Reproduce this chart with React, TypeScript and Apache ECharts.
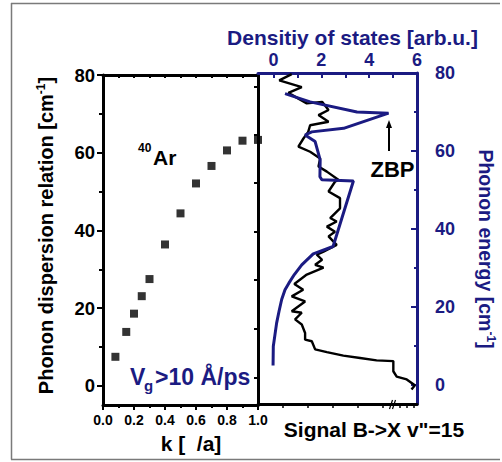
import React, { useEffect, useRef } from 'react';
import * as echarts from 'echarts';

const FONT = '"Liberation Sans", Arial, Helvetica, sans-serif';
const NAVY = '#1b1b82';
const BLACK = '#000000';

// Left panel: phonon dispersion relation of 40Ar
const dispersionK = [0.08, 0.15, 0.2, 0.25, 0.3, 0.4, 0.5, 0.6, 0.7, 0.8, 0.9, 1.0];
const dispersionE = [7.5, 13.9, 18.6, 23.1, 27.5, 36.4, 44.4, 52.1, 56.6, 60.6, 63.1, 63.3];

// Right panel: density of states (blue)
const dosValues = [0.48, 1.53, 3.49, 4.81, 2.93, 1.6, 1.32, 1.74, 1.95, 1.94, 2.02, 3.34, 2.49, 1.66, 1.18, 0.87, 0.64, 0.48, 0.34, 0.23, 0.13, 0.06, -0.01, -0.02];
const dosEnergy = [74.7, 72.6, 70.0, 69.7, 65.8, 64.9, 64.1, 62.4, 57.7, 53.4, 52.6, 52.3, 35.5, 33.6, 30.8, 28.3, 26.1, 24.4, 21.9, 18.9, 15.9, 12.9, 9.9, 5.0];

// Right panel: signal B->X v"=15 (black)
const signalValues = [0.76, 0.24, 1.18, 0.62, 1.39, 2.03, 2.3, 1.88, 2.3, 1.53, 1.45, 1.25, 1.04, 1.53, 1.95, 1.88, 2.23, 2.71, 2.57, 2.3, 2.78, 2.78, 2.37, 2.64, 2.23, 2.57, 2.3, 2.64, 2.09, 1.81, 2.03, 1.74, 2.09, 1.39, 0.87, 1.24, 0.76, 1.32, 0.76, 1.18, 0.9, 1.18, 1.32, 1.32, 1.6, 1.74, 2.23, 2.92, 3.62, 4.31, 5.01, 5.01, 5.15, 5.57, 5.91, 5.77];
const signalEnergy = [79.7, 78.1, 76.4, 74.9, 72.2, 72.6, 70.5, 69.2, 67.5, 66.6, 64.9, 63.2, 61.1, 59.8, 58.1, 56.0, 54.7, 52.6, 52.1, 49.6, 47.9, 45.3, 42.8, 41.9, 40.6, 39.3, 38.1, 35.9, 34.2, 33.4, 32.1, 30.8, 30.1, 28.3, 25.9, 24.4, 22.7, 21.4, 18.9, 18.5, 16.8, 15.5, 13.3, 11.6, 11.2, 9.1, 8.4, 7.5, 6.9, 6.3, 6.1, 3.5, 2.1, 1.4, -0.1, -1.2];

// Tick values
const energyTicks = [0, 20, 40, 60, 80];
const energyMinorTicks = [10, 30, 50, 70];
const dosTickLabels = [0, 2, 4, 6];
const dosTicks = [0, 1, 2, 3, 4, 5, 6];
const innerFrameTicks = [2, 14.8, 27.3, 39.7, 52.2, 64.6, 77.1];
const signalTicks = [0, 1, 2, 3, 4, 5, 5.68, 5.95, 6.22];

const E_MIN = -4.9;
const E_MAX = 80;

function zip(a: number[], b: number[]) {
  return a.map((v, i) => [v, b[i]]);
}

function buildOption(): any {
  const noSplit = { show: false };
  const txt = (extra: any) => ({ fontFamily: FONT, fontWeight: 'bold', ...extra });
  return {
    animation: false,
    backgroundColor: '#ffffff',
    grid: [
      { left: 103, top: 75, width: 155, height: 330, containLabel: false, outerBoundsMode: 'none' },
      { left: 258, top: 73, width: 159, height: 331, containLabel: false, outerBoundsMode: 'none' },
    ],
    xAxis: [
      {
        gridIndex: 0, type: 'value', position: 'bottom', min: 0, max: 1, interval: 0.2,
        axisLine: { show: true, onZero: false, lineStyle: { color: BLACK, width: 3 } },
        axisTick: { show: true, inside: false, length: 5, lineStyle: { color: BLACK, width: 2 } },
        minorTick: { show: true, splitNumber: 2, length: 3, lineStyle: { color: BLACK, width: 2 } },
        axisLabel: txt({ show: true, margin: 8, color: BLACK, fontSize: 14, formatter: (v: number) => v.toFixed(1) }),
        splitLine: noSplit, minorSplitLine: noSplit,
      },
      {
        gridIndex: 0, type: 'value', position: 'top', min: 0, max: 1, interval: 0.1,
        axisLine: { show: true, onZero: false, lineStyle: { color: BLACK, width: 3 } },
        axisTick: { show: true, inside: true, length: 3, lineStyle: { color: BLACK, width: 2 } },
        axisLabel: { show: false }, splitLine: noSplit,
      },
      {
        gridIndex: 1, type: 'value', position: 'top', min: -0.65, max: 6,
        axisLine: { show: true, onZero: false, lineStyle: { color: NAVY, width: 3 } },
        axisTick: { show: true, inside: true, length: 5, customValues: dosTicks, lineStyle: { color: NAVY, width: 2 } },
        axisLabel: txt({ show: true, customValues: dosTickLabels, margin: 4, color: NAVY, fontSize: 18 }),
        splitLine: noSplit,
      },
      {
        gridIndex: 1, type: 'value', position: 'bottom', min: 0, max: 6.36,
        axisLine: { show: true, onZero: false, lineStyle: { color: BLACK, width: 3 } },
        axisTick: { show: true, inside: false, length: 4, customValues: signalTicks, lineStyle: { color: BLACK, width: 1.5 } },
        axisLabel: { show: false }, splitLine: noSplit,
      },
    ],
    yAxis: [
      {
        gridIndex: 0, type: 'value', position: 'left', min: E_MIN, max: E_MAX,
        axisLine: { show: true, onZero: false, lineStyle: { color: BLACK, width: 3 } },
        axisTick: { show: true, inside: false, length: 6, customValues: energyTicks, lineStyle: { color: BLACK, width: 2 } },
        axisLabel: txt({ show: true, customValues: energyTicks, margin: 8, color: BLACK, fontSize: 18.5 }),
        splitLine: noSplit,
      },
      {
        gridIndex: 0, type: 'value', position: 'right', min: E_MIN, max: E_MAX,
        axisLine: { show: true, onZero: false, lineStyle: { color: BLACK, width: 3 } },
        axisTick: { show: true, inside: true, length: 4, customValues: innerFrameTicks, lineStyle: { color: BLACK, width: 2 } },
        axisLabel: { show: false }, splitLine: noSplit,
      },
      {
        gridIndex: 1, type: 'value', position: 'right', min: E_MIN, max: E_MAX,
        axisLine: { show: true, onZero: false, lineStyle: { color: NAVY, width: 3 } },
        axisTick: { show: true, inside: true, length: 6, customValues: energyTicks, lineStyle: { color: NAVY, width: 2 } },
        axisLabel: txt({ show: true, customValues: energyTicks, margin: 18, color: NAVY, fontSize: 18 }),
        splitLine: noSplit,
      },
      {
        gridIndex: 0, type: 'value', position: 'left', min: E_MIN, max: E_MAX,
        axisLine: { show: false, onZero: false },
        axisTick: { show: true, inside: false, length: 4, customValues: energyMinorTicks, lineStyle: { color: BLACK, width: 2 } },
        axisLabel: { show: false }, splitLine: noSplit,
      },
      {
        gridIndex: 1, type: 'value', position: 'right', min: E_MIN, max: E_MAX,
        axisLine: { show: false, onZero: false },
        axisTick: { show: true, inside: true, length: 3, customValues: energyMinorTicks, lineStyle: { color: NAVY, width: 2 } },
        axisLabel: { show: false }, splitLine: noSplit,
      },
    ],
    series: [
      {
        type: 'scatter', xAxisIndex: 0, yAxisIndex: 0,
        data: zip(dispersionK, dispersionE),
        symbol: 'rect', symbolSize: 8, clip: false,
        itemStyle: { color: BLACK },
        z: 5,
      },
      {
        type: 'line', xAxisIndex: 2, yAxisIndex: 2,
        data: zip(signalValues, signalEnergy),
        showSymbol: false, symbol: 'none', smooth: false,
        lineStyle: { color: BLACK, width: 2.4 },
        z: 3,
      },
      {
        type: 'line', xAxisIndex: 2, yAxisIndex: 2,
        data: zip(dosValues, dosEnergy),
        showSymbol: false, symbol: 'none', smooth: false,
        lineStyle: { color: NAVY, width: 3 },
        z: 4,
      },
    ],
    graphic: {
      elements: [
        { type: 'line', shape: { x1: 11, y1: 3.5, x2: 500, y2: 3.5 }, style: { stroke: '#7a7a7a', lineWidth: 1.5 } },
        { type: 'line', shape: { x1: 11.5, y1: 3, x2: 11.5, y2: 459.5 }, style: { stroke: '#7a7a7a', lineWidth: 1.5 } },
        { type: 'line', shape: { x1: 11, y1: 459.5, x2: 500, y2: 459.5 }, style: { stroke: '#7a7a7a', lineWidth: 1.5 } },
        {
          type: 'text', x: 46, y: 235.5, rotation: Math.PI / 2,
          style: {
            text: '{a|Phonon dispersion relation [cm}{s|-1}{a|]}',
            align: 'center', verticalAlign: 'middle',
            rich: {
              a: { fontFamily: FONT, fontWeight: 'bold', fontSize: 20, lineHeight: 22, fill: BLACK },
              s: { fontFamily: FONT, fontWeight: 'bold', fontSize: 12, lineHeight: 12, verticalAlign: 'top', fill: BLACK },
            },
          },
        },
        {
          type: 'text', x: 486, y: 249, rotation: -Math.PI / 2,
          style: {
            text: '{a|Phonon energy [cm}{s|-1}{a|]}',
            align: 'center', verticalAlign: 'middle',
            rich: {
              a: { fontFamily: FONT, fontWeight: 'bold', fontSize: 19.5, lineHeight: 22, fill: NAVY },
              s: { fontFamily: FONT, fontWeight: 'bold', fontSize: 12, lineHeight: 12, verticalAlign: 'top', fill: NAVY },
            },
          },
        },
        {
          type: 'text', x: 352.5, y: 37,
          style: { text: 'Densitiy of states [arb.u.]', fill: NAVY, fontFamily: FONT, fontWeight: 'bold', fontSize: 21, align: 'center', verticalAlign: 'middle' },
        },
        {
          type: 'text', x: 191, y: 443,
          style: { text: 'k [\u00a0\u00a0/a]', fill: BLACK, fontFamily: FONT, fontWeight: 'bold', fontSize: 21, align: 'center', verticalAlign: 'middle' },
        },
        {
          type: 'text', x: 374, y: 429,
          style: { text: 'Signal B->X v"=15', fill: BLACK, fontFamily: FONT, fontWeight: 'bold', fontSize: 21, align: 'center', verticalAlign: 'middle' },
        },
        {
          type: 'text', x: 138, y: 148,
          style: { text: '40', fill: BLACK, fontFamily: FONT, fontWeight: 'bold', fontSize: 12, align: 'left', verticalAlign: 'middle' },
        },
        {
          type: 'text', x: 153, y: 157.5,
          style: { text: 'Ar', fill: BLACK, fontFamily: FONT, fontWeight: 'bold', fontSize: 21, align: 'left', verticalAlign: 'middle' },
        },
        {
          type: 'text', x: 130, y: 376.5,
          style: { text: 'V', fill: NAVY, fontFamily: FONT, fontWeight: 'bold', fontSize: 23, align: 'left', verticalAlign: 'middle' },
        },
        {
          type: 'text', x: 144, y: 385.5,
          style: { text: 'g', fill: NAVY, fontFamily: FONT, fontWeight: 'bold', fontSize: 15, align: 'left', verticalAlign: 'middle' },
        },
        {
          type: 'text', x: 155, y: 376.5,
          style: { text: '>10 Å/ps', fill: NAVY, fontFamily: FONT, fontWeight: 'bold', fontSize: 23, align: 'left', verticalAlign: 'middle' },
        },
        {
          type: 'text', x: 392.5, y: 169,
          style: { text: 'ZBP', fill: BLACK, fontFamily: FONT, fontWeight: 'bold', fontSize: 22, align: 'center', verticalAlign: 'middle' },
        },
        { type: 'line', shape: { x1: 389, y1: 151, x2: 389, y2: 126 }, style: { stroke: BLACK, lineWidth: 2 } },
        { type: 'polygon', shape: { points: [[389, 120], [386, 128], [392, 128]] }, style: { fill: BLACK } },
        { type: 'line', shape: { x1: 389.5, y1: 409, x2: 392.5, y2: 400 }, style: { stroke: BLACK, lineWidth: 1.2 } },
        { type: 'line', shape: { x1: 392.5, y1: 409, x2: 395.5, y2: 400 }, style: { stroke: BLACK, lineWidth: 1.2 } },
      ],
    },
  };
}

export default function App() {
  const ref = useRef<HTMLDivElement>(null);
  useEffect(() => {
    if (!ref.current) return;
    const chart = echarts.init(ref.current, null, { renderer: 'svg' });
    chart.setOption(buildOption());
    return () => {
      chart.dispose();
    };
  }, []);
  return (
    <div
      ref={ref}
      style={{ position: 'fixed', left: 0, top: 0, width: 502, height: 462, background: '#ffffff' }}
    />
  );
}
